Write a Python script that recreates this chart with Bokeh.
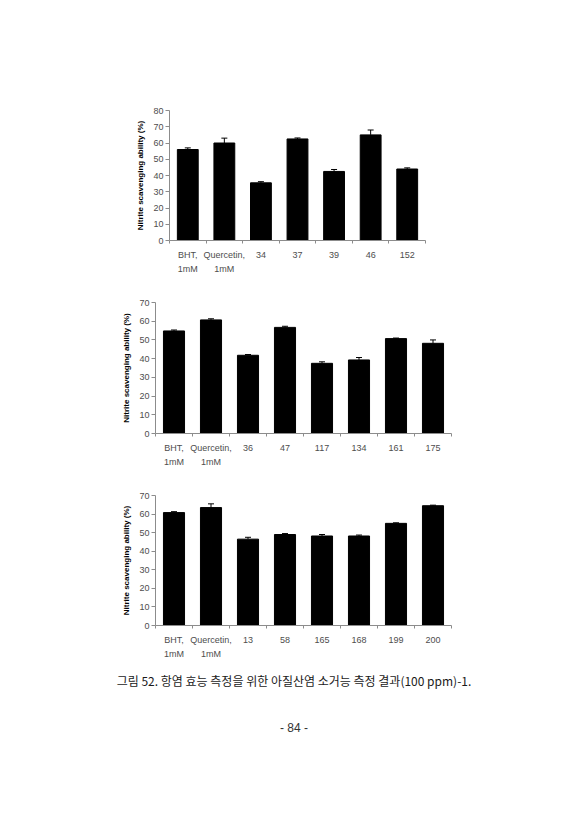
import numpy as np
from bokeh.plotting import figure
from bokeh.models import ColumnDataSource, Whisker, TeeHead, FixedTicker, Range1d, Label
from bokeh.embed import file_html
from bokeh.resources import INLINE

# ---- data ----
labels1 = ["BHT,\n1mM", "Quercetin,\n1mM", "34", "37", "39", "46", "152"]
values1 = [56.0, 60.0, 35.5, 62.5, 42.5, 65.0, 44.0]
errors1 = [1.0, 3.0, 0.7, 0.6, 1.2, 3.0, 0.7]
ymax1 = 80

labels2 = ["BHT,\n1mM", "Quercetin,\n1mM", "36", "47", "117", "134", "161", "175"]
values2 = [54.8, 60.7, 41.8, 56.7, 37.5, 39.3, 50.7, 48.2]
errors2 = [0.5, 0.6, 0.4, 0.6, 0.8, 1.3, 0.3, 1.8]
ymax2 = 70

labels3 = ["BHT,\n1mM", "Quercetin,\n1mM", "13", "58", "165", "168", "199", "200"]
values3 = [60.8, 63.5, 46.5, 49.0, 48.2, 48.2, 55.0, 64.5]
errors3 = [0.5, 2.0, 1.0, 0.5, 0.8, 0.5, 0.3, 0.3]
ymax3 = 70

y_label = "Nitrite scavenging ability (%)"
caption = "그림 52. 항염 효능 측정을 위한 아질산염 소거능 측정 결과(100 ppm)-1."
page_number = "- 84 -"

W = 587
AXIS_COLOR = "#8c8c8c"
TICK_COLOR = "#4d4d4d"
FONT = "Liberation Sans"


def make_chart(labels, values, errors, ymax, left, fw, top, fh, bottom):
    n = len(labels)
    xs = list(range(n))
    src = ColumnDataSource(dict(
        x=xs, top=values,
        hi=[v + e for v, e in zip(values, errors)],
    ))
    p = figure(width=W, height=top + fh + bottom,
               x_range=Range1d(-0.5, n - 0.5), y_range=Range1d(0, ymax),
               output_backend="svg", toolbar_location=None, tools="",
               min_border_left=left, min_border_right=W - left - fw,
               min_border_top=top, min_border_bottom=bottom)
    p.outline_line_color = None
    p.xgrid.visible = False
    p.ygrid.visible = False
    p.background_fill_color = "white"
    p.border_fill_color = "white"

    p.vbar(x="x", top="top", bottom=0, width=0.57, source=src,
           fill_color="black", line_color="black", line_width=1)
    wk = Whisker(base="x", upper="hi", lower="top", source=src,
                 line_color="black", line_width=1,
                 upper_head=TeeHead(size=6, line_color="black", line_width=1),
                 lower_head=None, level="overlay")
    p.add_layout(wk)

    xa = p.xaxis[0]
    xa.ticker = FixedTicker(ticks=xs, minor_ticks=[i - 0.5 for i in range(n + 1)])
    xa.major_label_overrides = {i: lab for i, lab in enumerate(labels)}
    xa.major_tick_out = 0
    xa.major_tick_in = 0
    xa.minor_tick_out = 3
    xa.minor_tick_in = 0
    xa.minor_tick_line_color = AXIS_COLOR
    xa.axis_line_color = AXIS_COLOR
    xa.major_label_standoff = 6
    xa.major_label_text_font = FONT
    xa.major_label_text_font_size = "9px"
    xa.major_label_text_color = TICK_COLOR
    xa.major_label_text_line_height = 1.45

    ya = p.yaxis[0]
    ya.ticker = FixedTicker(ticks=list(range(0, ymax + 1, 10)))
    ya.major_tick_out = 4
    ya.major_tick_in = 0
    ya.minor_tick_out = 0
    ya.minor_tick_in = 0
    ya.major_tick_line_color = AXIS_COLOR
    ya.axis_line_color = AXIS_COLOR
    ya.major_label_standoff = 2
    ya.major_label_text_font = FONT
    ya.major_label_text_font_size = "9px"
    ya.major_label_text_color = TICK_COLOR
    ya.axis_label = y_label
    ya.axis_label_text_font = FONT
    ya.axis_label_text_font_style = "bold"
    ya.axis_label_text_font_size = "8px"
    ya.axis_label_text_color = "black"
    ya.axis_label_standoff = 5
    return p


p1 = make_chart(labels1, values1, errors1, ymax1, 169, 256, 110, 130, 43)
p2 = make_chart(labels2, values2, errors2, ymax2, 155, 296, 19, 131, 44)
p3 = make_chart(labels3, values3, errors3, ymax3, 155, 296, 18, 130, 43)

CH = 162
cap = figure(width=W, height=CH, x_range=Range1d(0, W), y_range=Range1d(CH, 0),
             output_backend="svg", toolbar_location=None, tools="",
             min_border=0, x_axis_location=None, y_axis_location=None)
cap.outline_line_color = None
cap.xgrid.visible = False
cap.ygrid.visible = False
cap.add_layout(Label(x=W / 2, y=12, text=caption, text_align="center",
                     text_baseline="middle", text_font="Noto Sans CJK KR",
                     text_font_size="12px", text_color="#1a1a1a"))
cap.add_layout(Label(x=W / 2, y=59, text=page_number, text_align="center",
                     text_baseline="middle", text_font="Liberation Sans",
                     text_font_size="12px", text_color="#333333"))

open("out.html", "w").write(file_html([p1, p2, p3, cap], INLINE))
